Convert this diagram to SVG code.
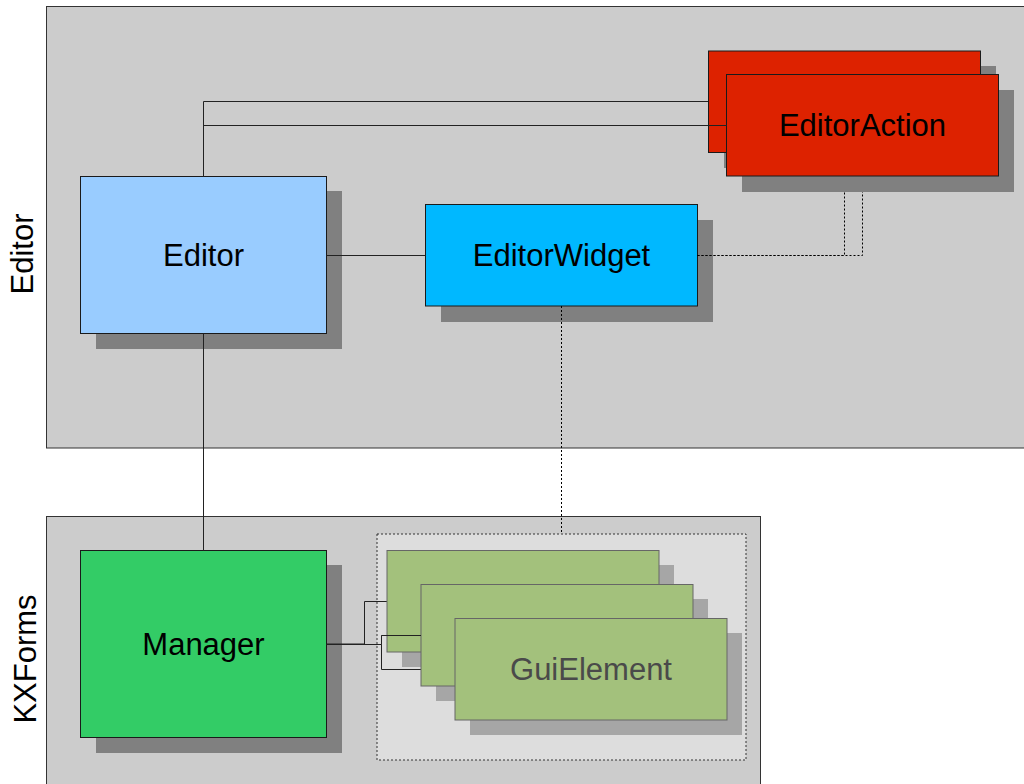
<svg xmlns="http://www.w3.org/2000/svg" width="1024" height="784" viewBox="0 0 1024 784">
  <style>
    .pkg { fill: #cccccc; stroke: #333333; stroke-width: 1; }
    .shadow { fill: #808080; }
    .shadow-light { fill: #a6a6a6; }
    .node { stroke: #1a1a1a; stroke-width: 1; }
    .gui { fill: #a3c17c; stroke: #666666; stroke-width: 1; }
    .label { font-family: "Liberation Sans", Arial, sans-serif; font-size: 31px; fill: #000000; text-anchor: middle; dominant-baseline: central; }
    .side { font-family: "Liberation Sans", Arial, sans-serif; font-size: 31px; fill: #000000; text-anchor: middle; }
    .link { fill: none; stroke: #222222; stroke-width: 1; }
    .dep { fill: none; stroke: #000000; stroke-width: 1; stroke-dasharray: 2 2; }
  </style>

  <rect width="1024" height="784" fill="#ffffff"/>

  <!-- package frames -->
  <g id="pkg-editor">
    <rect class="pkg" x="46.5" y="6.5" width="990" height="441.5"/>
    <text class="side" transform="translate(33,254) rotate(-90)">Editor</text>
  </g>
  <g id="pkg-kxforms">
    <rect class="pkg" x="46.5" y="516.5" width="714" height="280"/>
    <text class="side" transform="translate(35.5,659) rotate(-90)">KXForms</text>
  </g>

  <!-- GuiElement collection frame -->
  <g id="gui-frame">
    <rect x="377" y="534" width="369" height="226" fill="#dddddd" stroke="#333333" stroke-width="1" stroke-dasharray="2 2"/>
  </g>

  <g id="editor">
    <rect class="shadow" x="96" y="191" width="246" height="158"/>
    <rect class="node" x="80.5" y="176.5" width="246" height="157" fill="#99ccff"/>
    <text class="label" x="203.5" y="255">Editor</text>
  </g>

  <g id="editor-widget">
    <rect class="shadow" x="441" y="220" width="272" height="102"/>
    <rect class="node" x="425.5" y="204.5" width="272" height="101.5" fill="#00b8ff"/>
    <text class="label" x="561.5" y="255">EditorWidget</text>
  </g>

  <g id="manager">
    <rect class="shadow" x="96" y="565" width="246" height="188"/>
    <rect class="node" x="80.5" y="550.5" width="246" height="187" fill="#33cc66"/>
    <text class="label" x="203.5" y="644">Manager</text>
  </g>

  <!-- connectors -->
  <g id="connectors">
    <path class="link" d="M203.5 176.5 V101.5 H708.5"/>
    <path class="link" d="M203.5 176.5 V125.5 H726.5"/>
    <path class="link" d="M326.5 255.5 H425.5"/>
    <path class="link" d="M203.5 333.5 V550.5"/>
    <path class="dep" d="M697.5 255.5 H844.5 V191.5"/>
    <path class="dep" d="M697.5 255.5 H862.5 V176.5"/>
    <path class="dep" d="M561.5 306 V534"/>
    <path class="link" d="M326.5 644.5 H364.5 V601.5 H387"/>
    <path class="link" d="M326.5 644.5 H381.5 V635.5 H421"/>
    <path class="link" d="M326.5 644.5 H381.5 V669.5 H455"/>
    <!-- shared trunk of the three Manager links -->
    <path class="link" d="M326.5 644 H364.5" stroke-width="2"/>
  </g>

  <g id="editor-action">
    <rect class="shadow" x="724" y="66" width="272" height="102"/>
    <rect class="node" x="708.5" y="51" width="272" height="101.5" fill="#dd2200"/>
    <rect class="shadow" x="742" y="90" width="272" height="102"/>
    <rect class="node" x="726.5" y="74.5" width="272" height="101.5" fill="#dd2200"/>
    <text class="label" x="862.5" y="125">EditorAction</text>
  </g>

  <g id="gui-element">
    <rect class="shadow-light" x="402" y="565" width="272" height="102"/>
    <rect class="gui" x="387" y="550.5" width="272" height="101.5"/>
    <rect class="shadow-light" x="436" y="599" width="272" height="102"/>
    <rect class="gui" x="421" y="584.5" width="272" height="101.5"/>
    <rect class="shadow-light" x="470" y="633" width="272" height="102"/>
    <rect class="gui" x="455" y="618.5" width="272" height="101.5"/>
    <text class="label" x="591" y="669" style="fill:#4a4a4a">GuiElement</text>
  </g>

  <!-- link segments that run across the stacked cards -->
  <g id="connectors-over">
    <path class="link" d="M381.5 635.5 H421"/>
    <path class="link" d="M708.5 125.5 H726.5"/>
  </g>
</svg>
